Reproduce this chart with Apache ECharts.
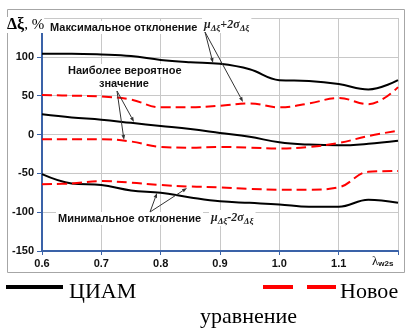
<!DOCTYPE html>
<html><head><meta charset="utf-8">
<script src="https://cdn.jsdelivr.net/npm/echarts@6/dist/echarts.min.js"></script>
<style>html,body{margin:0;padding:0;background:#fff}#c{width:409px;height:333px}</style>
</head><body><div id="c"></div>
<script>
var xs = [0.6,0.65,0.7,0.75,0.8,0.85,0.9,0.95,1.0,1.05,1.1,1.15,1.2];
var maxCIAM  = [104,104,103,101,96,93,91,84,70,69,65,58,70];
var maxNew   = [51,50,49,45,35,35,37,40,35,40,47,39,61];
var probCIAM = [26,22,19,15,11,7,2,-3,-10,-13,-14,-12,-8];
var probNew  = [-6,-6,-6,-9,-16,-17,-16,-17,-18,-16,-11,-2,5];
var minCIAM  = [-51,-63,-65,-72,-75,-81,-86,-88,-90,-93,-93,-84,-88];
var minNew   = [-64,-63,-60,-62,-65,-67,-68,-70,-71,-71,-68,-48,-47];
var yTicks = [-150,-100,-50,0,50,100];
var xTicks = [0.6,0.7,0.8,0.9,1.0,1.1];

function pairs(v){ return xs.map(function(x,i){return [x,v[i]];}); }
function blk(name,v){ return {name:name,type:'line',data:pairs(v),smooth:0.4,symbol:'none',
  lineStyle:{color:'#000',width:2}}; }
function red(name,v){ return {name:name,type:'line',data:pairs(v),smooth:0.4,symbol:'none',
  lineStyle:{color:'#ff0000',width:2,type:[10,5]}}; }

function arrow(x1,y1,x2,y2){
  var a=Math.atan2(y2-y1,x2-x1), L=5, w=1.8;
  var bx=x2-L*Math.cos(a), by=y2-L*Math.sin(a);
  var px=-Math.sin(a)*w, py=Math.cos(a)*w;
  return [
    {type:'line',z:110,shape:{x1:x1,y1:y1,x2:bx,y2:by},style:{stroke:'#333',lineWidth:1}},
    {type:'polygon',z:110,shape:{points:[[x2,y2],[bx+px,by+py],[bx-px,by-py]]},style:{fill:'#333'}}
  ];
}
var mu = {m:{fontFamily:'Liberation Serif',fontStyle:'italic',fontWeight:'bold',fontSize:12,fill:'#222'},
          s:{fontFamily:'Liberation Serif',fontStyle:'italic',fontWeight:'bold',fontSize:9,fill:'#222',padding:[7,0,0,0]}};
function lbl(x,y,t){ return {type:'text',z:100,left:x,top:y,style:{text:t,font:'bold 11px Liberation Sans',fill:'#111',backgroundColor:'#fff',padding:[1,2,1,2]}}; }

var chart = echarts.init(document.getElementById('c'));
var graphics = [
  {type:'rect',shape:{x:7.5,y:9.5,width:397,height:263},style:{fill:'none',stroke:'#a6a6a6',lineWidth:1},z:-1},
  {type:'text',left:7,top:17,z:100,style:{text:'{a|Δξ}{b|, %}',backgroundColor:'#fff',rich:{a:{fontFamily:'Liberation Serif',fontSize:16,fontWeight:'bold',fill:'#000'},b:{fontFamily:'Liberation Serif',fontSize:15,fill:'#000'}}}},
  lbl(48,21,'Максимальное отклонение'),
  {type:'text',left:202,top:17,z:100,style:{text:'{m|μ}{s|Δξ}{m|+2σ}{s|Δξ}',rich:mu,backgroundColor:'#fff',padding:[0,2,0,2]}},
  lbl(66,64,'Наиболее вероятное'),
  lbl(97,77,'значение'),
  lbl(56,212,'Минимальное отклонение'),
  {type:'text',left:209,top:210,z:100,style:{text:'{m|μ}{s|Δξ}{m|-2σ}{s|Δξ}',rich:mu,backgroundColor:'#fff',padding:[0,2,0,2]}},
  {type:'text',left:372,top:255,style:{text:'{l|λ}{s|w2s}',rich:{l:{fontFamily:'Liberation Serif',fontSize:13,fill:'#111'},s:{fontFamily:'Liberation Sans',fontWeight:'bold',fontSize:8,fill:'#111',padding:[5,0,0,0]}}}},
  {type:'line',shape:{x1:6,y1:287,x2:63,y2:287},style:{stroke:'#000',lineWidth:4}},
  {type:'text',left:69,top:281,style:{text:'ЦИАМ',font:'22px Liberation Serif',fill:'#000'}},
  {type:'line',shape:{x1:263,y1:287,x2:293,y2:287},style:{stroke:'#ff0000',lineWidth:4}},
  {type:'line',shape:{x1:307,y1:287,x2:336,y2:287},style:{stroke:'#ff0000',lineWidth:4}},
  {type:'text',left:340,top:281,style:{text:'Новое',font:'22px Liberation Serif',fill:'#000'}},
  {type:'text',left:200,top:306,style:{text:'уравнение',font:'22px Liberation Serif',fill:'#000'}}
];
graphics = graphics.concat(arrow(205,32,213,63), arrow(205,32,243,102),
  arrow(117,91,134,122), arrow(117,91,124,140),
  arrow(150,212,157,193), arrow(150,212,187,188));

chart.setOption({
  animation:false,
  grid:{left:42,right:11,top:18,bottom:82},
  xAxis:{type:'value',min:0.6,max:1.2,interval:0.1,
    axisLine:{onZero:false,lineStyle:{color:'#3a62a8',width:2}},
    axisTick:{show:true,length:4,lineStyle:{color:'#3a62a8'}},
    axisLabel:{margin:7,color:'#111',fontFamily:'Liberation Sans',fontWeight:'bold',fontSize:11,
      formatter:function(v){ var r=Math.round(v*10)/10; return xTicks.indexOf(r)>=0 ? r.toFixed(1) : ''; }},
    splitLine:{show:true,lineStyle:{color:'#c8c8c8',width:1}}},
  yAxis:{type:'value',min:-150,max:150,interval:50,
    axisLine:{show:true,onZero:false,lineStyle:{color:'#3a62a8',width:2}},
    axisTick:{show:true,length:5,lineStyle:{color:'#3a62a8'}},
    axisLabel:{margin:8,color:'#111',fontFamily:'Liberation Sans',fontWeight:'bold',fontSize:11,
      formatter:function(v){ return yTicks.indexOf(v)>=0 ? String(v) : ''; }},
    splitLine:{show:true,lineStyle:{color:'#c8c8c8',width:1}}},
  series:[blk('maxCIAM',maxCIAM),red('maxNew',maxNew),blk('probCIAM',probCIAM),red('probNew',probNew),blk('minCIAM',minCIAM),red('minNew',minNew)],
  graphic:graphics
});
</script></body></html>
